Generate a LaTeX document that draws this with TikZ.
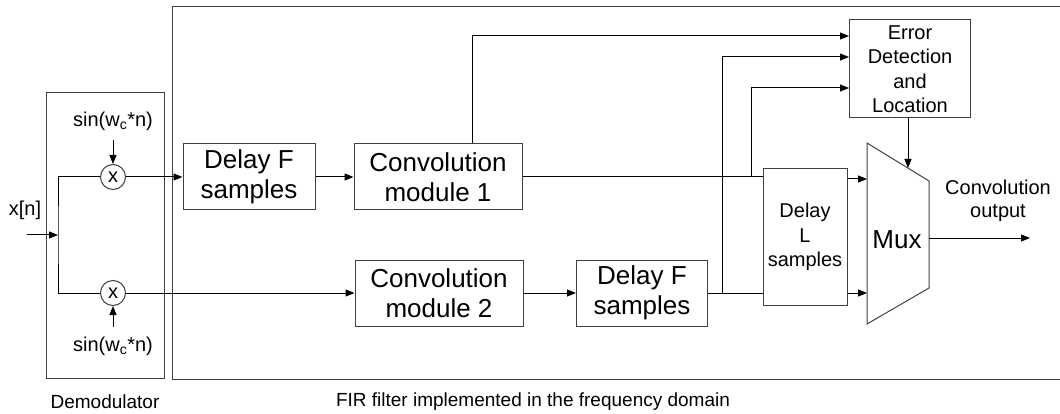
\documentclass[tikz,border=0pt]{standalone}
\usepackage{fontspec}
\setmainfont{Liberation Sans}
\usetikzlibrary{arrows.meta}

\newcommand*{\yup}{177}
\newcommand*{\ylow}{293}

\begin{document}
\begin{tikzpicture}
[
	x=1pt, y=-1pt,
	block/.style={rectangle,draw=black!75,line width=1pt,inner sep=0pt,align=center,font=\fontsize{26}{30}\selectfont},
	smallblock/.style={block,font=\fontsize{20}{24.5}\selectfont},
	mult/.style={circle,draw=black!75,line width=1pt,inner sep=0pt,minimum size=25pt,font=\fontsize{20}{24}\selectfont},
	lbl/.style={inner sep=0pt,align=center,font=\fontsize{20}{23.5}\selectfont},
	sig/.style={line width=1pt},
	arr/.style={sig,-{Triangle[length=9pt,width=7pt]}}
]

	\useasboundingbox (0,0) rectangle (1060,414);

	% frames
	\draw[line width=1pt,black!75] (46,93) rectangle (164,378);
	\draw[line width=1pt,black!75] (1060,7) -- (172,7) -- (172,379) -- (1060,379);
	\node[lbl,font=\fontsize{19}{22}\selectfont] (demodlbl) at (105,402) {Demodulator};
	\node[lbl,font=\fontsize{19}{22}\selectfont] (firlbl) at (533,402) {FIR filter implemented in the frequency domain};

	% demodulator
	\node[mult] (mulup) at (113,\yup) {x};
	\node[mult] (mullow) at (113,\ylow) {x};
	\node[lbl] (sinup) at (113,121) {sin(w\textsubscript{c}*n)};
	\node[lbl] (sinlow) at (113,346) {sin(w\textsubscript{c}*n)};
	\node[lbl] (xin) at (25,210) {x[n]};
	\coordinate (xstart) at (27,235);
	\coordinate (split) at (58,235);

	\draw[arr,shorten <=9pt] (sinup) -- (mulup);
	\draw[arr,shorten <=9pt] (sinlow) -- (mullow);
	\draw[sig] (mulup.west) -| (split) |- (mullow.west);
	\draw[arr] (xstart) -- (split);

	% upper and lower paths
	\node[block,minimum width=132pt,minimum height=66pt] (delayup) at (249,\yup) {Delay F\\samples};
	\node[block,minimum width=168pt,minimum height=66pt] (convup) at (438,\yup) {Convolution\\module 1};
	\node[block,minimum width=168pt,minimum height=66pt] (convlow) at (439,\ylow) {Convolution\\module 2};
	\node[block,minimum width=131pt,minimum height=66pt] (delaylow) at (642,\ylow) {Delay F\\samples};

	% delay L, error detection, mux
	\node[smallblock,minimum width=84pt,minimum height=136pt] (delayL) at (805,237) {Delay\\L\\samples};
	\node[smallblock,minimum width=121pt,minimum height=98pt] (errdet) at (910,69) {Error\\Detection\\and\\Location};
	\coordinate (muxtl) at (867,143);
	\coordinate (muxtr) at (929,181);
	\coordinate (muxbr) at (929,288);
	\coordinate (muxbl) at (867,324);
	\draw[line width=1pt,black!75] (muxtl) -- (muxtr) -- (muxbr) -- (muxbl) -- cycle;
	\node[inner sep=0pt,font=\fontsize{26}{30}\selectfont] (mux) at (897,240) {Mux};
	\coordinate (muxin1) at (867,179);
	\coordinate (muxin2) at (867,\ylow);
	\coordinate (muxsel) at (908,168);
	\coordinate (muxout) at (929,238);
	\node[lbl] (outlbl) at (998,201) {Convolution\\output};
	\coordinate (outend) at (1030,238);

	% connectors
	\draw[arr] (mulup) -- (delayup);
	\draw[arr] (delayup) -- (convup);
	\draw[arr] (mullow) -- (convlow);
	\draw[arr] (convlow) -- (delaylow);
	\draw[sig] (convup) -- (delayL.west |- convup);
	\draw[sig] (delaylow) -- (delayL.west |- delaylow);
	\draw[arr] (delayL.east |- muxin1) -- (muxin1);
	\draw[arr] (delayL.east |- muxin2) -- (muxin2);

	% error detection inputs
	\coordinate (tapA) at (722,\ylow);
	\coordinate (tapB) at (751,\yup);
	\draw[arr] ([xshift=34pt]convup.north) |- ([yshift=33pt]errdet.west);
	\draw[arr] (tapA) |- ([yshift=12pt]errdet.west);
	\draw[arr] (tapB) |- ([yshift=-19pt]errdet.west);
	\draw[arr] ([xshift=-2pt]errdet.south) -- (muxsel);
	\draw[arr] (muxout) -- (outend);

\end{tikzpicture}
\end{document}
